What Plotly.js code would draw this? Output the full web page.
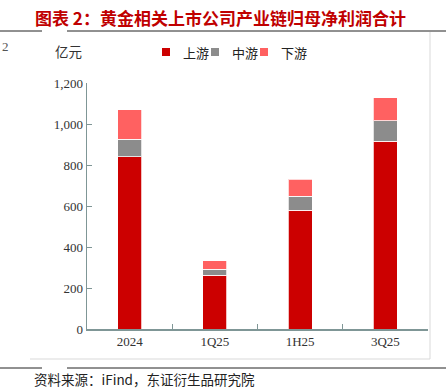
<!DOCTYPE html>
<html>
<head>
<meta charset="utf-8">
<script src="https://cdn.plot.ly/plotly-3.0.1.min.js"></script>
<style>html,body{margin:0;padding:0;background:#fff;}#chart{width:446px;height:388px;}</style>
</head>
<body>
<div id="chart"></div>
<script>
const categories = ['2024', '1Q25', '1H25', '3Q25'];
const seriesNames = ['上游', '中游', '下游'];
const upstream = [840, 261, 580, 915];
const midstream = [86, 31, 67, 102];
const downstream = [144, 40, 83, 110];
const yTickVals = [0, 200, 400, 600, 800, 1000, 1200];
const yTickText = ['0', '200', '400', '600', '800', '1,000', '1,200'];
const colors = ['#cc0000', '#8c8c8c', '#ff6161'];

const W = 446, H = 388;
const M = {l: 87, r: 18, t: 83, b: 59};
const PW = W - M.l - M.r, PH = H - M.t - M.b;
const px = v => (v - M.l) / PW;
const py = v => (H - M.b - v) / PH;

const values = [upstream, midstream, downstream];
const traces = values.map((vals, i) => ({
  type: 'bar',
  name: seriesNames[i],
  x: categories,
  y: vals,
  width: 0.28,
  marker: {color: colors[i], line: {color: 'rgba(255,255,255,0.75)', width: 1}},
  hoverinfo: 'skip',
  showlegend: false
}));

const axisColor = '#7f9696';

// manual compact legend (square + label), positions in pixels
const legendStartX = 162, legendY = 52, legendPitch = 49;
const legendShapes = seriesNames.map((n, i) => ({
  type: 'rect', xref: 'paper', yref: 'paper',
  x0: px(legendStartX + i * legendPitch), x1: px(legendStartX + i * legendPitch + 8),
  y0: py(legendY + 4), y1: py(legendY - 4),
  fillcolor: colors[i], line: {width: 0}
}));
const legendLabels = seriesNames.map((n, i) => ({
  text: n, xref: 'paper', yref: 'paper',
  x: px(legendStartX + i * legendPitch + 19), y: py(legendY),
  xanchor: 'left', yanchor: 'middle', showarrow: false,
  font: {family: 'Noto Sans CJK SC', size: 13, color: '#222'}
}));

const layout = {
  width: W, height: H,
  margin: M,
  barmode: 'stack',
  paper_bgcolor: '#fff',
  plot_bgcolor: '#fff',
  showlegend: false,
  xaxis: {
    type: 'category',
    range: [-0.5, 3.5],
    showline: true, linecolor: axisColor, linewidth: 1.5,
    ticks: 'inside', tickson: 'boundaries', ticklen: 5, tickcolor: axisColor, tickwidth: 1,
    showgrid: false, zeroline: false,
    tickfont: {family: 'Liberation Serif', size: 13, color: '#333'},
    fixedrange: true
  },
  yaxis: {
    range: [0, 1200],
    tickvals: yTickVals, ticktext: yTickText,
    showline: true, linecolor: axisColor, linewidth: 1.5,
    ticks: 'inside', ticklen: 5, tickcolor: axisColor, tickwidth: 1,
    showgrid: false, zeroline: false,
    tickfont: {family: 'Liberation Serif', size: 13, color: '#333'},
    fixedrange: true
  },
  shapes: [
    {type: 'line', xref: 'paper', yref: 'paper', x0: px(0), x1: px(42), y0: py(31), y1: py(31), line: {color: '#222', width: 1}},
    {type: 'line', xref: 'paper', yref: 'paper', x0: px(67), x1: px(446), y0: py(31), y1: py(31), line: {color: '#222', width: 1}},
    {type: 'line', xref: 'paper', yref: 'paper', x0: px(0), x1: px(42), y0: py(368), y1: py(368), line: {color: '#222', width: 1}},
    {type: 'line', xref: 'paper', yref: 'paper', x0: px(67), x1: px(446), y0: py(368), y1: py(368), line: {color: '#222', width: 1}},
    {type: 'line', xref: 'paper', yref: 'paper', x0: px(430), x1: px(430), y0: py(32), y1: py(359), line: {color: '#d9d9d9', width: 1}},
    {type: 'line', xref: 'paper', yref: 'paper', x0: px(30), x1: px(430), y0: py(359), y1: py(359), line: {color: '#d9d9d9', width: 1}}
  ].concat(legendShapes),
  annotations: [
    {text: '<b>图表 2：黄金相关上市公司产业链归母净利润合计</b>', xref: 'paper', yref: 'paper', x: px(33), y: py(17), xanchor: 'left', yanchor: 'middle', showarrow: false,
     font: {family: 'Noto Sans CJK SC', size: 17, color: '#c00000'}},
    {text: '亿元', xref: 'paper', yref: 'paper', x: px(53), y: py(51), xanchor: 'left', yanchor: 'middle', showarrow: false,
     font: {family: 'Noto Sans CJK SC', size: 13.5, color: '#333'}},
    {text: '2', xref: 'paper', yref: 'paper', x: px(0), y: py(46), xanchor: 'left', yanchor: 'middle', showarrow: false,
     font: {family: 'Liberation Serif', size: 13, color: '#555'}},
    {text: '资料来源：iFind，东证衍生品研究院', xref: 'paper', yref: 'paper', x: px(33), y: py(378.5), xanchor: 'left', yanchor: 'middle', showarrow: false, borderpad: 0,
     font: {family: 'Noto Sans CJK SC', size: 13.5, color: '#222'}}
  ].concat(legendLabels)
};

Plotly.newPlot('chart', traces, layout, {staticPlot: true, displayModeBar: false});
</script>
</body>
</html>
